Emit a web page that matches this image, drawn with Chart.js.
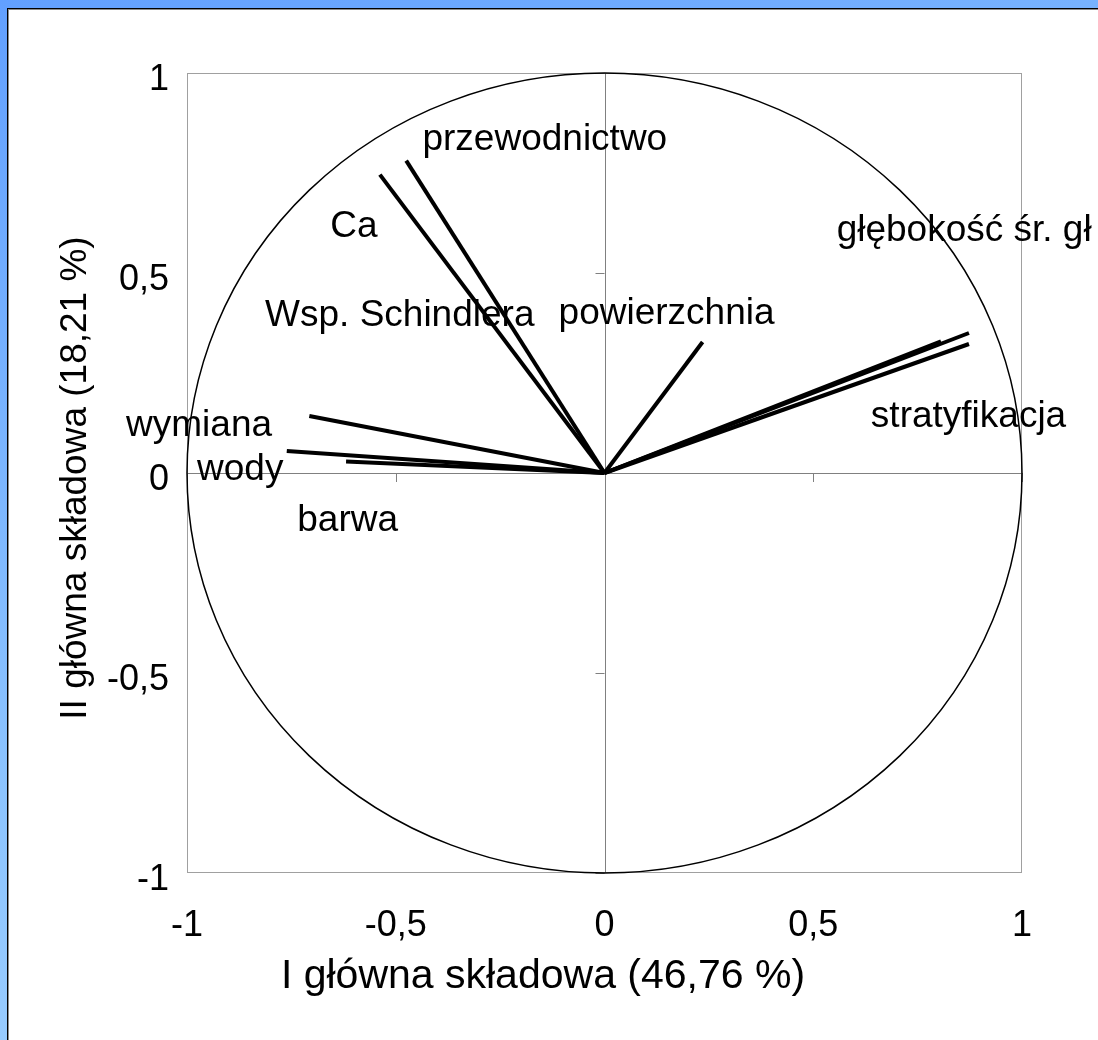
<!DOCTYPE html>
<html lang="pl">
<head>
<meta charset="utf-8">
<title>Składowe główne</title>
<script src="https://cdn.jsdelivr.net/npm/chart.js@4.4.1/dist/chart.umd.min.js"></script>
<style>
    html, body {
        margin: 0;
        padding: 0;
        width: 1098px;
        height: 1040px;
        overflow: hidden;
        background: linear-gradient(160deg, #62a0ff 0%, #8cc4ff 55%, #a8d6ff 100%);
    }
    .panel {
        position: absolute;
        left: 7px;
        top: 8px;
        right: 0;
        bottom: 0;
        background: #fff;
        border-top: 1px solid #000;
        border-left: 1px solid #000;
        box-shadow: inset 1px 1px 0 #8a8a8a;
    }
    #pcaChart {
        position: absolute;
        left: 0;
        top: 0;
    }
</style>
</head>
<body>
<div class="panel"></div>
<canvas id="pcaChart" width="1098" height="1040"></canvas>

<script>
// ładunki zmiennych na dwie pierwsze składowe
const loadingX = [-0.475, -0.538, -0.707, -0.761, -0.619, 0.235, 0.873, 0.873, 0.806];
const loadingY = [0.781, 0.746, 0.1425, 0.055, 0.029, 0.3275, 0.350, 0.3225, 0.329];

// podpisy zmiennych (pozycja: lewa krawędź tekstu, środek w pionie)
const labelText = ['przewodnictwo', 'Ca', 'Wsp. Schindlera', 'powierzchnia',
    'głębokość śr. gł', 'stratyfikacja', 'wymiana', 'wody', 'barwa'];
const labelX = [-0.436, -0.657, -0.813, -0.110, 0.556, 0.638, -1.146, -0.976, -0.736];
const labelY = [0.84, 0.6225, 0.40, 0.405, 0.6125, 0.1475, 0.125, 0.015, -0.1125];

const xTickLabels = ['-1', '-0,5', '0', '0,5', '1'];
const yTickLabels = ['-1', '-0,5', '0', '0,5', '1'];
const xTitle = 'I główna składowa (46,76 %)';
const yTitle = 'II główna składowa (18,21 %)';

const FONT = "'Liberation Sans', Arial, sans-serif";

// wektory od początku układu
const datasets = loadingX.map((x, i) => ({
    data: [{ x: 0, y: 0 }, { x: x, y: loadingY[i] }],
    showLine: true,
    borderColor: '#000',
    borderWidth: 4,
    pointRadius: 0,
    fill: false
}));

// ramka, osie przez zero, okrąg korelacji
const backgroundPlugin = {
    id: 'pcaBackground',
    beforeDatasetsDraw(chart) {
        const { ctx, chartArea: a, scales: { x, y } } = chart;
        const x0 = x.getPixelForValue(0);
        const y0 = y.getPixelForValue(0);
        ctx.save();

        ctx.strokeStyle = '#a0a0a0';
        ctx.lineWidth = 1;
        ctx.strokeRect(a.left + 0.5, a.top + 0.5, a.width - 1, a.height - 1);

        ctx.strokeStyle = '#808080';
        ctx.beginPath();
        ctx.moveTo(a.left, Math.round(y0) + 0.5);
        ctx.lineTo(a.right, Math.round(y0) + 0.5);
        ctx.moveTo(Math.round(x0) + 0.5, a.top);
        ctx.lineTo(Math.round(x0) + 0.5, a.bottom);
        x.ticks.forEach(t => {
            const px = Math.round(x.getPixelForValue(t.value)) + 0.5;
            ctx.moveTo(px, y0);
            ctx.lineTo(px, y0 + 9);
        });
        y.ticks.forEach(t => {
            const py = Math.round(y.getPixelForValue(t.value)) + 0.5;
            ctx.moveTo(x0 - 9, py);
            ctx.lineTo(x0, py);
        });
        ctx.stroke();

        const rx = x.getPixelForValue(1) - x0;
        const ry = y0 - y.getPixelForValue(1);
        ctx.strokeStyle = '#000';
        ctx.lineWidth = 1.5;
        ctx.beginPath();
        ctx.ellipse(x0, y0, rx, ry, 0, 0, Math.PI * 2);
        ctx.stroke();
        ctx.restore();
    },
    afterDraw(chart) {
        const { ctx, scales: { x, y } } = chart;
        ctx.save();
        ctx.fillStyle = '#000';
        ctx.textBaseline = 'middle';

        ctx.font = '37px ' + FONT;
        ctx.textAlign = 'left';
        labelText.forEach((txt, i) => {
            ctx.fillText(txt, x.getPixelForValue(labelX[i]), y.getPixelForValue(labelY[i]) + 3);
        });

        ctx.textAlign = 'center';
        ctx.font = '41px ' + FONT;
        ctx.fillText(xTitle, 543, 977);

        ctx.font = '37px ' + FONT;
        ctx.translate(76, 478);
        ctx.rotate(-Math.PI / 2);
        ctx.fillText(yTitle, 0, 0);
        ctx.restore();
    }
};

new Chart(document.getElementById('pcaChart'), {
    type: 'scatter',
    data: { datasets: datasets },
    options: {
        responsive: false,
        animation: false,
        layout: {
            padding: { top: 73, right: 76, bottom: 0, left: 0 }
        },
        plugins: {
            legend: { display: false },
            tooltip: { enabled: false }
        },
        scales: {
            x: {
                type: 'linear',
                min: -1,
                max: 1,
                grid: { display: false, drawTicks: false },
                border: { display: false },
                ticks: {
                    stepSize: 0.5,
                    padding: 31,
                    color: '#000',
                    font: { family: FONT, size: 36 },
                    maxRotation: 0,
                    callback: (v, i) => xTickLabels[i]
                },
                afterFit(scale) { scale.height = 167; }
            },
            y: {
                type: 'linear',
                min: -1,
                max: 1,
                grid: { display: false, drawTicks: false },
                border: { display: false },
                ticks: {
                    stepSize: 0.5,
                    padding: 18,
                    labelOffset: 7,
                    color: '#000',
                    font: { family: FONT, size: 36 },
                    callback: (v, i) => yTickLabels[i]
                },
                afterFit(scale) { scale.width = 187; }
            }
        }
    },
    plugins: [backgroundPlugin]
});
</script>
</body>
</html>
